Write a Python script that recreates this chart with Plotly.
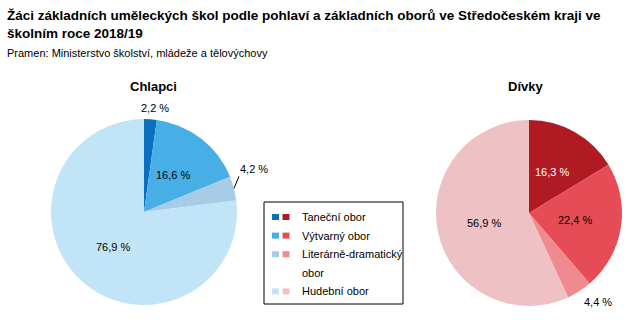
import math
import plotly.graph_objects as go

# Data: share of pupils by basic field, boys vs. girls (in %)
obory = ["Taneční obor", "Výtvarný obor", "Literárně-dramatický obor", "Hudební obor"]
legend_lines = [["Taneční obor"], ["Výtvarný obor"], ["Literárně-dramatický", "obor"], ["Hudební obor"]]
chlapci = [2.2, 16.6, 4.2, 76.9]
divky = [16.3, 22.4, 4.4, 56.9]

blue = ["#0a6fbf", "#47aee6", "#a7cce6", "#c2e4f7"]
red = ["#b01a22", "#e64c55", "#f08a8f", "#eec1c4"]

FONT = "Liberation Sans, Arial, sans-serif"
W, H = 642, 325
R = 93


def fmt(v):
    return f"{v:.1f}".replace(".", ",") + " %"


def px(x):
    return x / W


def py(y):
    return 1 - y / H


fig = go.Figure()

# name, values, colours, centre (px), label placement, label colours
pies = [
    ("Chlapci", chlapci, blue, (144, 212),
     ["top", "in", "leader", "in"], ["#000", "#000", "#000", "#000"]),
    ("Dívky", divky, red, (529, 213),
     ["in", "in", "below", "in"], ["#fff", "#000", "#000", "#000"]),
]

annotations = [
    dict(text="<b>Žáci základních uměleckých škol podle pohlaví a základních oborů ve Středočeském kraji ve<br>školním roce 2018/19</b>",
         x=px(5), y=py(6), xref="paper", yref="paper", xanchor="left", yanchor="top",
         align="left", showarrow=False, font=dict(family=FONT, size=13.5, color="#000")),
    dict(text="Pramen: Ministerstvo školství, mládeže a tělovýchovy",
         x=px(5), y=py(45), xref="paper", yref="paper", xanchor="left", yanchor="top",
         align="left", showarrow=False, font=dict(family=FONT, size=11, color="#000")),
    dict(text="<b>Chlapci</b>", x=px(153), y=py(86), xref="paper", yref="paper",
         xanchor="center", yanchor="middle", showarrow=False,
         font=dict(family=FONT, size=13, color="#000")),
    dict(text="<b>Dívky</b>", x=px(525), y=py(86), xref="paper", yref="paper",
         xanchor="center", yanchor="middle", showarrow=False,
         font=dict(family=FONT, size=13, color="#000")),
]

for name, vals, cols, (cx, cy), place, tcol in pies:
    fig.add_trace(go.Pie(
        labels=obory,
        values=vals,
        textinfo="none",
        marker=dict(colors=cols, line=dict(width=0)),
        sort=False,
        direction="clockwise",
        rotation=0,
        showlegend=False,
        hovertemplate="%{label}: %{value:.1f} %<extra></extra>",
        domain=dict(x=[px(cx - R), px(cx + R)], y=[py(cy + R), py(cy - R)]),
        name=name,
    ))

    # value labels placed at the mid-angle of each slice
    total = sum(vals)
    cum = 0.0
    for v, mode, c in zip(vals, place, tcol):
        mid = 2 * math.pi * (cum + v / 2) / total
        cum += v
        sx, sy = math.sin(mid), -math.cos(mid)
        rim_x, rim_y = cx + R * sx, cy + R * sy
        font = dict(family=FONT, size=11, color=c)
        if mode == "in":
            annotations.append(dict(
                text=fmt(v), x=px(cx + 0.5 * R * sx), y=py(cy + 0.5 * R * sy),
                xref="paper", yref="paper", xanchor="center", yanchor="middle",
                showarrow=False, font=font))
        elif mode == "top":
            annotations.append(dict(
                text=fmt(v), x=px(rim_x), y=py(rim_y), xref="paper", yref="paper",
                xanchor="center", yanchor="bottom", xshift=5, yshift=3,
                showarrow=False, font=font))
        elif mode == "below":
            annotations.append(dict(
                text=fmt(v), x=px(rim_x), y=py(rim_y), xref="paper", yref="paper",
                xanchor="left", yanchor="top", xshift=3, yshift=-3,
                showarrow=False, font=font))
        elif mode == "leader":
            annotations.append(dict(
                text=fmt(v), x=px(rim_x), y=py(rim_y), xref="paper", yref="paper",
                ax=5, ay=-12, xanchor="left", yanchor="bottom",
                showarrow=True, arrowhead=0, arrowwidth=1, arrowcolor="#000",
                standoff=0, startstandoff=0, borderpad=0, font=font))

shapes = [
    # legend frame
    dict(type="rect", xref="paper", yref="paper",
         x0=px(264), x1=px(403), y0=py(304), y1=py(202),
         line=dict(color="#000", width=1), fillcolor="white"),
]

# legend: two swatches per field (boys, girls) followed by the label text
y = 217
for lines, cb, cr in zip(legend_lines, blue, red):
    for x0, c in ((272, cb), (282.5, cr)):
        shapes.append(dict(type="rect", xref="paper", yref="paper",
                           x0=px(x0), x1=px(x0 + 7), y0=py(y + 3), y1=py(y - 3),
                           line=dict(width=0), fillcolor=c))
    for ln in lines:
        annotations.append(dict(text=ln, x=px(300), y=py(y), xref="paper", yref="paper",
                                xanchor="left", yanchor="middle", showarrow=False,
                                font=dict(family=FONT, size=11, color="#000")))
        y += 18.6

fig.update_layout(
    width=W, height=H,
    margin=dict(l=0, r=0, t=0, b=0),
    paper_bgcolor="white",
    plot_bgcolor="white",
    annotations=annotations,
    shapes=shapes,
)

fig.write_html("out.html")
